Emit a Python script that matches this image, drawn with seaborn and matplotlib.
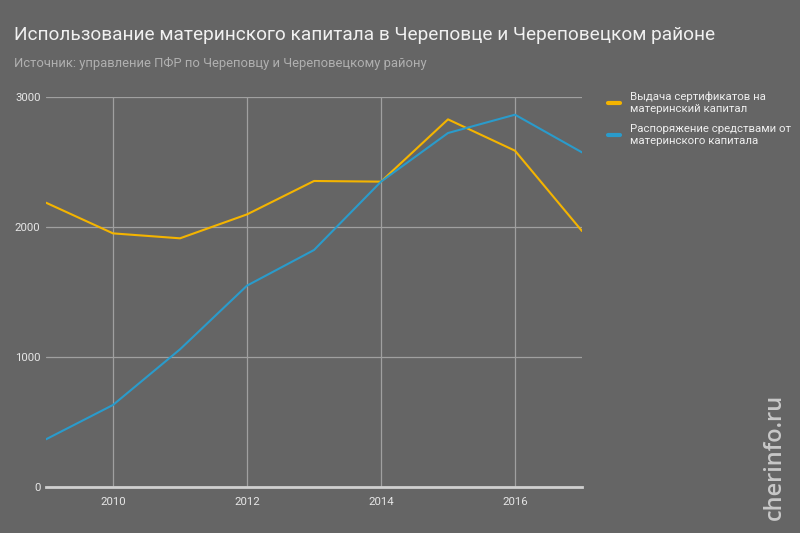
import matplotlib
matplotlib.use("Agg")
import matplotlib.pyplot as plt
import seaborn as sns
import pandas as pd

years = [2009, 2010, 2011, 2012, 2013, 2014, 2015, 2016, 2017]
certificates = [2187, 1951, 1913, 2097, 2354, 2349, 2828, 2587, 1969]
disposals = [367, 631, 1059, 1549, 1823, 2349, 2723, 2864, 2574]
series_names = ["Выдача сертификатов на\nматеринский капитал",
                "Распоряжение средствами от\nматеринского капитала"]
x_ticks = [2010, 2012, 2014, 2016]
y_ticks = [0, 1000, 2000, 3000]

df = pd.DataFrame({
    "year": years * 2,
    "value": certificates + disposals,
    "series": [series_names[0]] * len(years) + [series_names[1]] * len(years),
})

sns.set_theme(style="dark")
plt.rcParams['font.family'] = ['Roboto', 'DejaVu Sans']

BG = "#656565"
fig = plt.figure(figsize=(8, 5.33), dpi=100, facecolor=BG)
ax = fig.add_axes([0.0575, 0.0863, 0.67, 0.7317])
ax.set_facecolor(BG)

palette = {series_names[0]: "#f4b400", series_names[1]: "#2a9bcb"}
sns.lineplot(data=df, x="year", y="value", hue="series", palette=palette,
             linewidth=1.5, ax=ax, legend=True)

ax.set_xlim(2009, 2017)
ax.set_ylim(0, 3000)
ax.set_xticks(x_ticks)
ax.set_yticks(y_ticks)
ax.set_xticklabels([str(t) for t in x_ticks])
ax.set_yticklabels([str(t) for t in y_ticks])
ax.grid(True, color="#a0a0a0", linewidth=0.9)
ax.set_axisbelow(True)
for s in ["top", "right", "left"]:
    ax.spines[s].set_visible(False)
ax.spines["bottom"].set_color("#d0d0d0")
ax.spines["bottom"].set_linewidth(2)
ax.tick_params(axis="both", length=0, colors="#e6e6e6", labelsize=8.2)
ax.tick_params(axis="x", pad=7)
ax.tick_params(axis="y", pad=4)
ax.set_xlabel("")
ax.set_ylabel("")

handles, labels = ax.get_legend_handles_labels()
leg = ax.legend(handles, labels, loc="upper left", bbox_to_anchor=(1.03, 1.04),
                frameon=False, fontsize=8.2, labelcolor="#eeeeee",
                handlelength=1.0, handletextpad=0.9, labelspacing=0.9)
for h in leg.get_lines():
    h.set_linewidth(3)

fig.text(0.0175, 0.925, "Использование материнского капитала в Череповце и Череповецком районе",
         color="#f0f0f0", fontsize=13.7, va="baseline", ha="left")
fig.text(0.0175, 0.875, "Источник: управление ПФР по Череповцу и Череповецкому району",
         color="#b0b0b0", fontsize=9.4, va="baseline", ha="left")
fig.text(0.969, 0.024, "cherinfo.ru", color="#c8c8c8", fontsize=17, rotation=90,
         ha="center", va="bottom", fontweight="semibold", family=["Open Sans", "DejaVu Sans"])

fig.savefig("out.png", dpi=100, facecolor=BG)
